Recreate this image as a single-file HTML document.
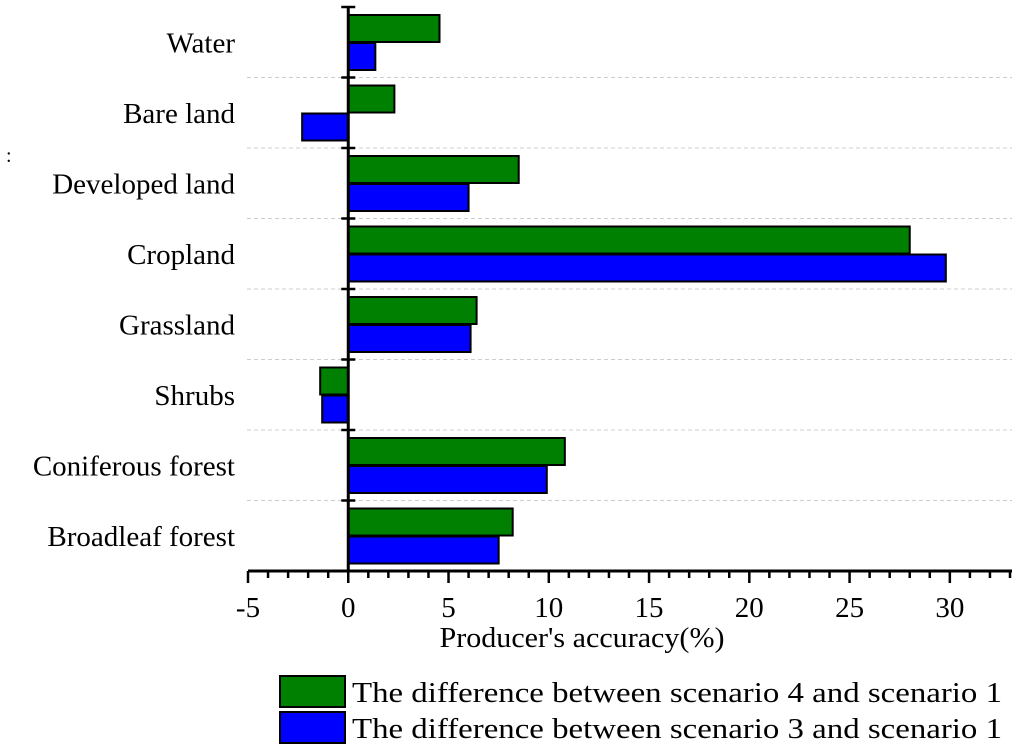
<!DOCTYPE html>
<html><head><meta charset="utf-8"><style>
body{margin:0;background:#fff;}
svg{display:block;font-family:"Liberation Serif",serif;}
</style></head><body>
<svg id="chart" width="1024" height="756"></svg>
<script>
const categories=["Water","Bare land","Developed land","Cropland","Grassland","Shrubs","Coniferous forest","Broadleaf forest"];
const scenario4=[4.55,2.3,8.5,28.0,6.4,-1.4,10.8,8.2];
const scenario3=[1.35,-2.3,6.0,29.8,6.1,-1.3,9.9,7.5];
const xTicks=[-5,0,5,10,15,20,25,30];
const seriesNames=["The difference between scenario 4 and scenario 1","The difference between scenario 3 and scenario 1"];
const NS="http://www.w3.org/2000/svg";
const svg=document.getElementById('chart');
const X0=248,X1=1012,XMIN=-5,XMAX=33.1,TOP=7,BOT=571;
const x=v=>X0+(v-XMIN)/(XMAX-XMIN)*(X1-X0);
const rowH=(BOT-TOP)/categories.length;
function el(t,a,p){const e=document.createElementNS(NS,t);for(const k in a)e.setAttribute(k,a[k]);(p||svg).appendChild(e);return e;}
for(let i=1;i<categories.length;i++){const y=TOP+i*rowH;
const g=el('line',{x1:247,x2:X1,y1:y,y2:y,stroke:'#ccc','stroke-dasharray':'4,3','stroke-width':1});
}
categories.forEach((c,i)=>{const t=TOP+i*rowH;
[[scenario4[i],'#008000',8],[scenario3[i],'#0000ff',36]].forEach(([v,col,off],j)=>{
const a=Math.min(x(0),x(v)),w=Math.abs(x(v)-x(0));
const r=el('rect',{x:a,y:t+off,width:w,height:27,fill:col,stroke:'#000','stroke-width':2});

});
const lb=el('text',{x:235,y:t+rowH/2+10,'text-anchor':'end','font-size':29,fill:'#000'});lb.textContent=c;
});
const ya=el('line',{x1:x(0),x2:x(0),y1:TOP,y2:BOT,stroke:'#000','stroke-width':3});

for(let i=0;i<categories.length;i++){const y=TOP+i*rowH;
const tk=el('line',{x1:x(0)-7,x2:x(0)+7,y1:y,y2:y,stroke:'#000','stroke-width':2.5});
}
const xa=el('line',{x1:X0,x2:X1,y1:BOT,y2:BOT,stroke:'#000','stroke-width':3});

for(let v=XMIN;v<=XMAX;v++){const major=xTicks.includes(v);
const tk=el('line',{x1:x(v),x2:x(v),y1:BOT,y2:BOT+(major?12:7),stroke:'#000','stroke-width':2.5});
}
xTicks.forEach(v=>{const t=el('text',{x:x(v),y:BOT+46,'text-anchor':'middle','font-size':29,fill:'#000'});t.textContent=v;
});
const xt=el('text',{x:582,y:647,'text-anchor':'middle','font-size':29,fill:'#000',textLength:285,lengthAdjust:'spacingAndGlyphs'});xt.textContent="Producer's accuracy(%)";

const st=el('text',{x:6,y:162,'font-size':20,fill:'#000'});st.textContent=":";

[['#008000',676],['#0000ff',712]].forEach(([col,y],i)=>{
const r=el('rect',{x:280,y:y,width:65,height:31,fill:col,stroke:'#000','stroke-width':2});

const t=el('text',{x:352,y:y+26,'font-size':29,fill:'#000',textLength:650,lengthAdjust:'spacingAndGlyphs'});t.textContent=seriesNames[i];
});
</script></body></html>
